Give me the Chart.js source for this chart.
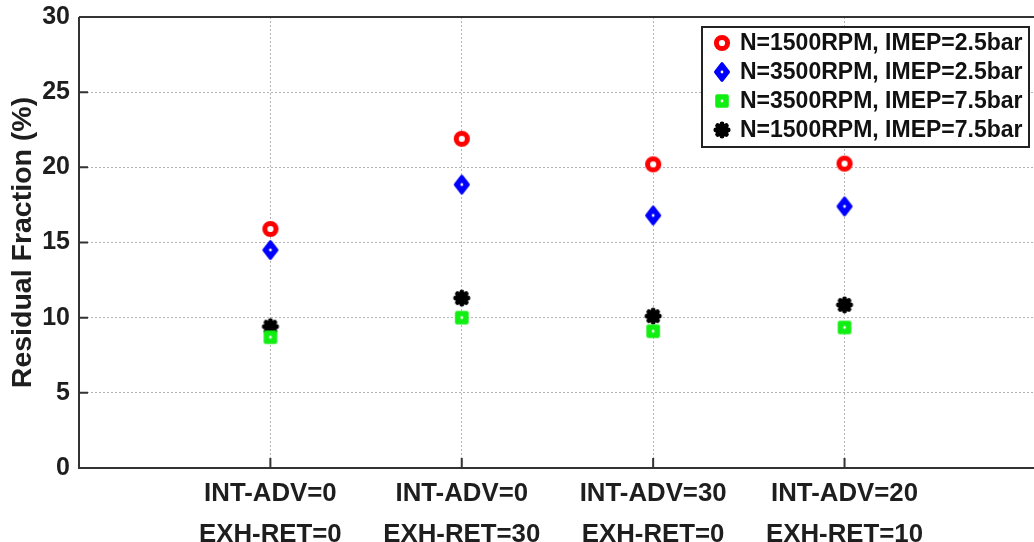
<!DOCTYPE html>
<html>
<head>
<meta charset="utf-8">
<script src="https://cdn.jsdelivr.net/npm/chart.js@4/dist/chart.umd.min.js"></script>
<style>
html, body { margin: 0; padding: 0; background: #fff; }
#wrap { width: 1034px; height: 542px; }
</style>
</head>
<body>
<div id="wrap"><canvas id="chart" width="1034" height="542"></canvas></div>
<script>
// valve timing cases on the x axis
const categories = [
    ["INT-ADV=0", "EXH-RET=0"],
    ["INT-ADV=0", "EXH-RET=30"],
    ["INT-ADV=30", "EXH-RET=0"],
    ["INT-ADV=20", "EXH-RET=10"]
];
const seriesNames = ["N=1500RPM, IMEP=2.5bar", "N=3500RPM, IMEP=2.5bar", "N=3500RPM, IMEP=7.5bar", "N=1500RPM, IMEP=7.5bar"];
// residual fraction (%)
const rpm1500Low = [15.9, 21.9, 20.2, 20.25];
const rpm3500Low = [14.5, 18.85, 16.8, 17.4];
const rpm3500High = [8.7, 10.0, 9.1, 9.35];
const rpm1500High = [9.4, 11.3, 10.1, 10.85];
const yTicks = [0, 5, 10, 15, 20, 25, 30];

const FONT = "'Liberation Sans', Arial, sans-serif";
const INK = "#1e1e1e";

// marker glyphs
function glyph(w, h, draw) {
    const c = document.createElement('canvas');
    c.width = w; c.height = h;
    draw(c.getContext('2d'), w / 2, h / 2);
    return c;
}
const redRing = glyph(20, 20, (g, cx, cy) => {
    g.beginPath(); g.arc(cx, cy, 5.6, 0, Math.PI * 2);
    g.fillStyle = '#fff'; g.fill();
    g.lineWidth = 5; g.strokeStyle = '#ff0000'; g.stroke();
});
const blueDiamond = glyph(20, 24, (g, cx, cy) => {
    g.beginPath();
    g.moveTo(cx, cy - 8.2); g.lineTo(cx + 6.4, cy); g.lineTo(cx, cy + 8.2); g.lineTo(cx - 6.4, cy); g.closePath();
    g.fillStyle = '#0000ff'; g.fill();
    g.lineJoin = 'round'; g.lineWidth = 3.2; g.strokeStyle = '#0000ff'; g.stroke();
    g.beginPath(); g.arc(cx, cy, 1.4, 0, Math.PI * 2); g.fillStyle = '#fff'; g.fill();
});
const greenSquare = glyph(18, 18, (g, cx, cy) => {
    g.fillStyle = '#11ee11';
    g.beginPath(); g.roundRect(cx - 6.8, cy - 6.8, 13.6, 13.6, 2); g.fill();
    g.beginPath(); g.arc(cx, cy, 1.4, 0, Math.PI * 2); g.fillStyle = '#fff'; g.fill();
});
const blackStar = glyph(20, 20, (g, cx, cy) => {
    g.fillStyle = '#000'; g.strokeStyle = '#000';
    g.beginPath(); g.arc(cx, cy, 6.6, 0, Math.PI * 2); g.fill();
    g.lineWidth = 4.8; g.lineCap = 'round';
    for (let k = 0; k < 4; k++) {
        const a = k * Math.PI / 4, r = 6.2;
        g.beginPath();
        g.moveTo(cx - Math.cos(a) * r, cy - Math.sin(a) * r);
        g.lineTo(cx + Math.cos(a) * r, cy + Math.sin(a) * r);
        g.stroke();
    }
});
const markers = [redRing, blueDiamond, greenSquare, blackStar];
const seriesValues = [rpm1500Low, rpm3500Low, rpm3500High, rpm1500High];

// axes box, inward ticks, legend
const decorations = {
    id: 'decorations',
    beforeDatasetsDraw(chart) {
        const { ctx, chartArea: a, scales } = chart;
        ctx.save();
        ctx.strokeStyle = '#333';
        ctx.lineWidth = 2;
        ctx.beginPath();
        ctx.moveTo(a.left, a.top); ctx.lineTo(a.right, a.top);
        ctx.moveTo(a.left, a.top); ctx.lineTo(a.left, a.bottom); ctx.lineTo(a.right, a.bottom);
        yTicks.forEach(v => {
            const y = scales.y.getPixelForValue(v);
            ctx.moveTo(a.left, y); ctx.lineTo(a.left + 9, y);
        });
        categories.forEach((c, i) => {
            const x = scales.x.getPixelForValue(i + 1);
            ctx.moveTo(x, a.bottom); ctx.lineTo(x, a.bottom - 10);
        });
        ctx.stroke();
        ctx.restore();
    },
    afterDatasetsDraw(chart) {
        const { ctx } = chart;
        const box = { x: 702, y: 27, w: 327, h: 120 };
        ctx.save();
        ctx.fillStyle = '#fff';
        ctx.fillRect(box.x, box.y, box.w, box.h);
        ctx.strokeStyle = '#222';
        ctx.lineWidth = 2;
        ctx.strokeRect(box.x, box.y, box.w, box.h);
        ctx.font = "bold 23px " + FONT;
        ctx.fillStyle = '#111';
        ctx.textBaseline = 'middle';
        seriesNames.forEach((name, i) => {
            const y = box.y + 16 + i * 29;
            const m = markers[i];
            ctx.drawImage(m, 722 - m.width / 2, y - m.height / 2);
            ctx.fillText(name, 740, y + 1);
        });
        ctx.restore();
    }
};

const gridStyle = { color: '#b4b4b4', lineWidth: 1, drawTicks: false };

new Chart(document.getElementById('chart'), {
    type: 'scatter',
    data: {
        datasets: seriesNames.map((name, i) => ({
            label: name,
            data: seriesValues[i].map((v, j) => ({ x: j + 1, y: v })),
            pointStyle: markers[i],
            pointRadius: 8
        }))
    },
    options: {
        responsive: false,
        animation: false,
        layout: { autoPadding: false, padding: { top: 17, right: 0, left: 0, bottom: 0 } },
        plugins: {
            legend: { display: false },
            tooltip: { enabled: false }
        },
        scales: {
            x: {
                type: 'linear',
                min: 0,
                max: 4.99,
                afterBuildTicks(scale) { scale.ticks = categories.map((c, i) => ({ value: i + 1 })); },
                afterFit(scale) {
                    scale.height = 74;
                    scale.paddingLeft = 0; scale.paddingRight = 0;
                },
                grid: gridStyle,
                border: { display: false, dash: [2, 2] },
                ticks: {
                    padding: 5,
                    color: INK,
                    font: { family: FONT, size: 25.8, weight: 'bold', lineHeight: 1.6 },
                    maxRotation: 0,
                    callback: v => categories[v - 1]
                }
            },
            y: {
                min: 0,
                max: 30,
                afterBuildTicks(scale) { scale.ticks = yTicks.map(v => ({ value: v })); },
                afterFit(scale) {
                    scale.width = 79;
                    scale.paddingTop = 0; scale.paddingBottom = 0;
                },
                grid: gridStyle,
                border: { display: false, dash: [2, 2] },
                ticks: {
                    padding: 9,
                    color: INK,
                    font: { family: FONT, size: 25, weight: 'bold' }
                },
                title: {
                    display: true,
                    text: 'Residual Fraction (%)',
                    color: INK,
                    padding: { top: 6, bottom: 0 },
                    font: { family: FONT, size: 28.5, weight: 'bold' }
                }
            }
        }
    },
    plugins: [decorations]
});
</script>
</body>
</html>
